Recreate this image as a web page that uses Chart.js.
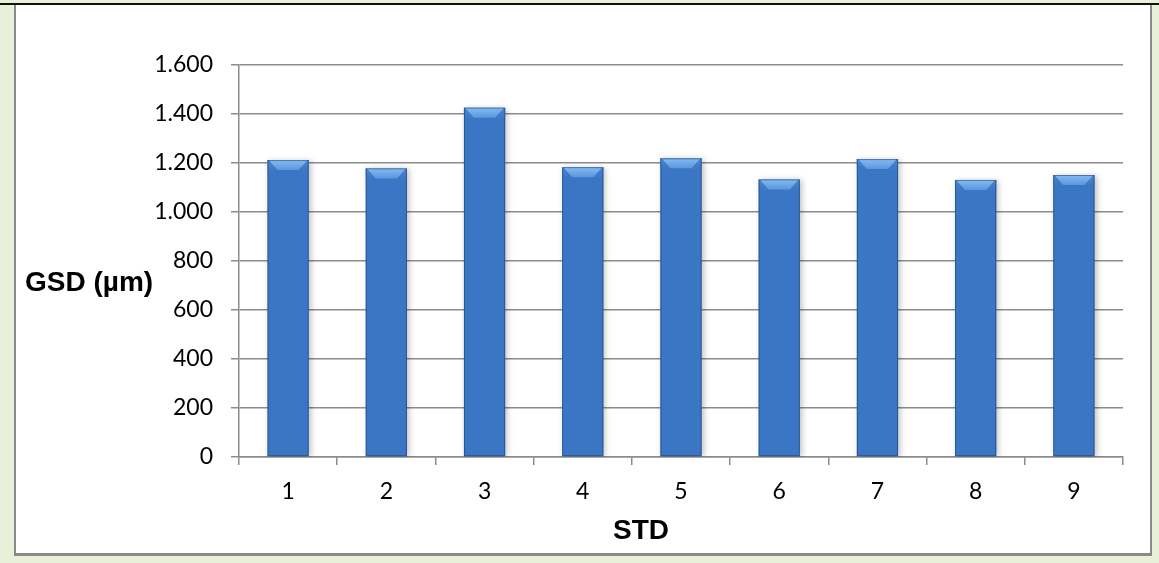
<!DOCTYPE html>
<html>
<head>
<meta charset="utf-8">
<title>GSD (µm) – STD</title>
<script src="https://cdn.jsdelivr.net/npm/chart.js@4.4.1/dist/chart.umd.min.js"></script>
<style>
  html, body { margin: 0; padding: 0; width: 1159px; height: 563px; overflow: hidden; background: #e8f0da; }
  #topRule { position: absolute; left: 0; top: 3px; width: 1159px; height: 2px; background: #111; }
  #frame { position: absolute; left: 14px; top: 5px; width: 1134px; height: 548px; background: #fff;
           border-left: 2px solid #8a8a8a; border-right: 2px solid #8a8a8a; border-bottom: 3px solid #8a8a8a; }
  #chart { position: absolute; left: 0; top: 0; }
</style>
</head>
<body>
<div id="topRule"></div>
<div id="frame"></div>
<canvas id="chart" width="1159" height="563"></canvas>
<script>
// Sample numbers on the category axis
const categories = ['1', '2', '3', '4', '5', '6', '7', '8', '9'];
// Geometric standard deviation per sample, µm
const gsdValues = [1212, 1178, 1426, 1183, 1219, 1133, 1216, 1131, 1151];
// Value axis ticks
const yTicks = [0, 200, 400, 600, 800, 1000, 1200, 1400, 1600];

const yTitle = 'GSD (µm)';
const xTitle = 'STD';

// 1600 -> "1.600"
function fmt(v) {
  return String(v).replace(/\B(?=(\d{3})+(?!\d))/g, '.');
}

// Horizontal shading across each bar, dark edges, lighter centre
function barFill(ctx) {
  const el = ctx.element;
  const chart = ctx.chart;
  if (!el || el.x === undefined || !chart.chartArea) return '#3b76c4';
  const half = (el.width || 40) / 2;
  const g = chart.ctx.createLinearGradient(el.x - half, 0, el.x + half, 0);
  g.addColorStop(0, '#1d457e');
  g.addColorStop(0.12, '#2c5ea2');
  g.addColorStop(0.3, '#3a76c4');
  g.addColorStop(0.55, '#3d7bca');
  g.addColorStop(0.85, '#2e61a6');
  g.addColorStop(1, '#1a4074');
  return g;
}

// Soft drop shadow under the bars and a bevelled top face
const bevelPlugin = {
  id: 'bevel',
  beforeDatasetsDraw(chart) {
    const c = chart.ctx;
    c.save();
    c.shadowColor = 'rgba(0,0,0,0.25)';
    c.shadowBlur = 6;
    c.shadowOffsetX = 2;
    c.shadowOffsetY = 1;
  },
  afterDatasetsDraw(chart) {
    const c = chart.ctx;
    c.restore();
    const meta = chart.getDatasetMeta(0);
    meta.data.forEach(bar => {
      const w = bar.width;
      const l = bar.x - w / 2, r = bar.x + w / 2, t = bar.y;
      const b = Math.min(10, w * 0.25);
      c.save();
      // lit top face
      const g = c.createLinearGradient(0, t, 0, t + b);
      g.addColorStop(0, '#84bbf2');
      g.addColorStop(1, '#5b97de');
      c.fillStyle = g;
      c.beginPath();
      c.moveTo(l + 1, t);
      c.lineTo(r - 1, t);
      c.lineTo(r - b, t + b);
      c.lineTo(l + b, t + b);
      c.closePath();
      c.fill();
      // soft side faces below the top corners
      const gs = c.createLinearGradient(0, t, 0, t + b + 4);
      gs.addColorStop(0, 'rgba(80,140,215,0.9)');
      gs.addColorStop(1, 'rgba(60,120,200,0)');
      c.fillStyle = gs;
      c.beginPath();
      c.moveTo(l, t); c.lineTo(l + b, t + b); c.lineTo(l, t + b + 4); c.closePath(); c.fill();
      c.beginPath();
      c.moveTo(r, t); c.lineTo(r - b, t + b); c.lineTo(r, t + b + 4); c.closePath(); c.fill();
      // thin outline
      c.strokeStyle = 'rgba(22,52,96,0.5)';
      c.lineWidth = 1;
      c.strokeRect(l + 0.5, t + 0.5, w - 1, bar.base - t - 1);
      c.restore();
    });
  }
};

// Horizontal axis titles placed like the spreadsheet layout
const titlePlugin = {
  id: 'titles',
  afterDraw(chart) {
    const c = chart.ctx;
    const a = chart.chartArea;
    c.save();
    c.fillStyle = '#000';
    c.font = 'bold 28px "Liberation Sans", Arial, sans-serif';
    c.textBaseline = 'middle';
    c.textAlign = 'left';
    c.fillText(yTitle, 25, (a.top + a.bottom) / 2 + 22);
    c.textAlign = 'center';
    c.fillText(xTitle, 641, 531);
    c.restore();
  }
};

new Chart(document.getElementById('chart'), {
  type: 'bar',
  data: {
    labels: categories,
    datasets: [{
      data: gsdValues,
      backgroundColor: barFill,
      borderWidth: 0,
      barPercentage: 0.42,
      categoryPercentage: 1.0
    }]
  },
  options: {
    responsive: false,
    animation: false,
    layout: { padding: { left: 0, right: 36, top: 65, bottom: 0 } },
    plugins: { legend: { display: false }, tooltip: { enabled: false } },
    scales: {
      x: {
        offset: true,
        afterFit(scale) { scale.height = 563 - 457; },
        grid: { drawOnChartArea: false, drawTicks: true, tickLength: 8, offset: true, color: '#8c8c8c', lineWidth: 1.5 },
        border: { color: '#8c8c8c', width: 1.5 },
        ticks: { color: '#000', font: { family: 'Lato', size: 23 }, padding: 13, maxRotation: 0 }
      },
      y: {
        min: 0,
        max: 1600,
        afterFit(scale) { scale.width = 239; },
        afterBuildTicks(scale) { scale.ticks = yTicks.map(v => ({ value: v })); },
        grid: { color: '#8c8c8c', lineWidth: 1.5, tickLength: 8 },
        border: { color: '#8c8c8c', width: 1.5 },
        ticks: { color: '#000', font: { family: 'Lato', size: 23 }, padding: 18, callback: v => fmt(v) }
      }
    }
  },
  plugins: [bevelPlugin, titlePlugin]
});
</script>
</body>
</html>
